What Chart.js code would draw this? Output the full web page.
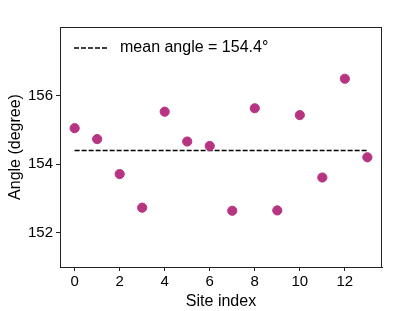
<!DOCTYPE html>
<html>
<head>
<meta charset="utf-8">
<script src="https://cdn.jsdelivr.net/npm/chart.js@4/dist/chart.umd.min.js"></script>
<style>
  html, body { margin: 0; padding: 0; background: #fff; }
  #wrap { width: 415px; height: 311px; position: relative; }
</style>
</head>
<body>
<div id="wrap"><canvas id="chart"></canvas></div>
<script>
// site index and measured angle (degree)
const siteIndex = [0, 1, 2, 3, 4, 5, 6, 7, 8, 9, 10, 11, 12, 13]
const angles = [155.05, 154.73, 153.71, 152.73, 155.53, 154.66, 154.53, 152.64, 155.63, 152.65, 155.43, 153.61, 156.49, 154.2]
const meanAngle = 154.4
const meanLabel = 'mean angle = 154.4°'
const xTicks = [0, 2, 4, 6, 8, 10, 12]
const yTicks = [152, 154, 156]

const FONT = "'Liberation Sans', Arial, sans-serif"
const pointColor = 'rgb(183, 52, 129)'

const points = siteIndex.map((x, i) => ({x: x, y: angles[i]}))
const meanLine = [
  {x: siteIndex[0], y: meanAngle},
  {x: siteIndex[siteIndex.length - 1], y: meanAngle}
]

// box around the plot + legend inside top-left
const frameLegend = {
  id: 'frameLegend',
  afterDraw(chart) {
    const ctx = chart.ctx
    const a = chart.chartArea
    ctx.save()
    ctx.strokeStyle = '#222'
    ctx.lineWidth = 1
    ctx.strokeRect(a.left + 0.5, a.top + 0.5, a.right - a.left - 1, a.bottom - a.top)

    const ly = a.top + 21
    ctx.setLineDash([5, 2])
    ctx.lineWidth = 1.5
    ctx.strokeStyle = '#000'
    ctx.beginPath()
    ctx.moveTo(a.left + 14, ly)
    ctx.lineTo(a.left + 48, ly)
    ctx.stroke()
    ctx.setLineDash([])
    ctx.fillStyle = '#000'
    ctx.font = '16px ' + FONT
    ctx.textBaseline = 'middle'
    ctx.fillText(chart.data.datasets[1].label, a.left + 60, ly)
    ctx.restore()
  }
}

new Chart('chart', {
  type: 'scatter',
  data: {
    datasets: [{
      label: 'angle',
      data: points,
      backgroundColor: pointColor,
      borderColor: pointColor,
      pointRadius: 4.6,
      pointHoverRadius: 4.6
    }, {
      type: 'line',
      label: meanLabel,
      data: meanLine,
      borderColor: '#000',
      borderWidth: 1.5,
      borderDash: [5, 2],
      pointRadius: 0,
      fill: false
    }]
  },
  options: {
    responsive: true,
    maintainAspectRatio: false,
    animation: false,
    layout: {padding: {top: 27, right: 33, left: 0, bottom: 0}},
    plugins: {
      legend: {display: false},
      tooltip: {enabled: false}
    },
    scales: {
      x: {
        type: 'linear',
        min: -0.65,
        max: 13.65,
        afterBuildTicks: (s) => { s.ticks = xTicks.map(v => ({value: v})) },
        afterFit: (s) => { s.height = 44 },
        grid: {drawOnChartArea: false, drawTicks: true, tickLength: 4, color: '#222'},
        border: {display: true, color: '#222'},
        ticks: {color: '#000', font: {family: FONT, size: 15}, padding: 2, maxRotation: 0},
        title: {display: true, text: 'Site index', color: '#000', font: {family: FONT, size: 16}, padding: {top: 0, bottom: 0}}
      },
      y: {
        min: 151,
        max: 158,
        afterBuildTicks: (s) => { s.ticks = yTicks.map(v => ({value: v})) },
        afterFit: (s) => { s.width = 60 },
        grid: {drawOnChartArea: false, drawTicks: true, tickLength: 4, color: '#222'},
        border: {display: true, color: '#222'},
        ticks: {color: '#000', font: {family: FONT, size: 15}, padding: 3},
        title: {display: true, text: 'Angle (degree)', color: '#000', font: {family: FONT, size: 16}, padding: {top: 6, bottom: 0}}
      }
    }
  },
  plugins: [frameLegend]
})
</script>
</body>
</html>
